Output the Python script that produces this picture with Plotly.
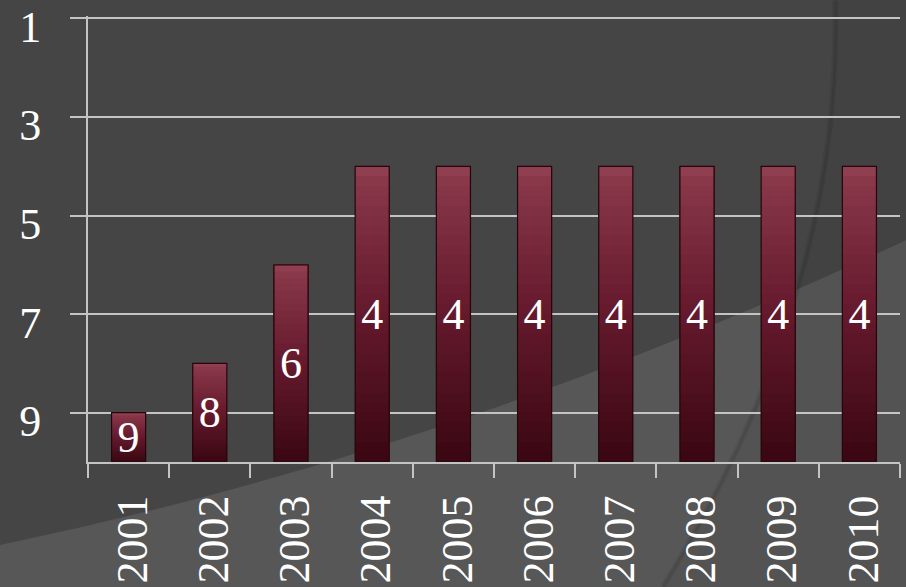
import plotly.graph_objects as go

# ---- data ----
years = ["2001", "2002", "2003", "2004", "2005", "2006", "2007", "2008", "2009", "2010"]
ranks = [9, 8, 6, 4, 4, 4, 4, 4, 4, 4]
y_ticks = [1, 3, 5, 7, 9]
axis_bottom = 10
axis_top = 0.95

# ---- style ----
FONT = "Liberation Serif"
FS = 44
GRID = "#c4c4c4"
N_SLICES = 30
stops = [(0.0, (0x3a, 0x07, 0x12)), (0.5, (0x66, 0x1a, 0x2d)), (0.93, (0x88, 0x37, 0x49)), (1.0, (0x96, 0x46, 0x57))]


def grad(f):
    for (f0, c0), (f1, c1) in zip(stops[:-1], stops[1:]):
        if f <= f1:
            t = (f - f0) / (f1 - f0) if f1 > f0 else 0
            return "rgb(%d,%d,%d)" % tuple(round(a + (b - a) * t) for a, b in zip(c0, c1))
    return "rgb(%d,%d,%d)" % stops[-1][1]


fig = go.Figure()
lengths = [axis_bottom - r for r in ranks]
for k in range(N_SLICES):
    f = k / N_SLICES
    fig.add_trace(go.Bar(
        x=years,
        base=[axis_bottom - L * f for L in lengths],
        y=[-(L * (1 - f)) for L in lengths],
        marker=dict(color=grad(f), line=dict(width=0)),
        hoverinfo="skip", showlegend=False,
    ))

fig.add_trace(go.Bar(
    x=years,
    base=[axis_bottom] * len(years),
    y=[-L for L in lengths],
    text=[str(r) for r in ranks],
    textposition="inside",
    insidetextanchor="middle",
    textangle=0,
    constraintext="none",
    textfont=dict(family=FONT, size=FS, color="white"),
    marker=dict(color="rgba(0,0,0,0)", line=dict(color="#25060c", width=1.2)),
    showlegend=False,
))

# ---- layout geometry (pixels) ----
PLOT_LEFT, PLOT_RIGHT = 88, 900
Y1_PX, Y10_PX = 18, 462          # pixel rows of value 1 and value 10
ppu = (Y10_PX - Y1_PX) / (axis_bottom - 1)
T_M = Y1_PX - (1 - axis_top) * ppu
H_P = Y10_PX - T_M
L_M, W_P = PLOT_LEFT, PLOT_RIGHT - PLOT_LEFT


def px(x, y):
    return "%.4f,%.4f" % ((x - L_M) / W_P, (T_M + H_P - y) / H_P)


light_path = ("M " + px(0, 545) + " Q " + px(453, 451.5) + " " + px(906, 240) +
              " L " + px(906, 587) + " L " + px(0, 587) + " Z")
arc_path = "M " + px(835, 0) + " Q " + px(843, 293.5) + " " + px(663, 587)
right_path = ("M " + px(835, 0) + " Q " + px(843, 293.5) + " " + px(663, 587) +
              " L " + px(906, 587) + " L " + px(906, 0) + " Z")

shapes = [
    dict(type="path", path=light_path, xref="paper", yref="paper", layer="below",
         fillcolor="#575757", line=dict(width=0)),
    dict(type="path", path=right_path, xref="paper", yref="paper", layer="below",
         fillcolor="rgba(0,0,0,0.04)", line=dict(width=0)),
    dict(type="path", path=arc_path, xref="paper", yref="paper", layer="below",
         line=dict(color="rgba(0,0,0,0.07)", width=6)),
    dict(type="path", path=arc_path, xref="paper", yref="paper", layer="below",
         line=dict(color="rgba(0,0,0,0.07)", width=2)),
]

fig.update_layout(
    width=906, height=587,
    margin=dict(l=L_M, r=906 - PLOT_RIGHT, t=T_M, b=587 - Y10_PX, pad=0, autoexpand=False),
    paper_bgcolor="#454545",
    plot_bgcolor="rgba(0,0,0,0)",
    barmode="overlay",
    bargap=0.58,
    shapes=shapes,
    font=dict(family=FONT, color="white"),
    xaxis=dict(
        type="category",
        automargin=False,
        tickson="boundaries",
        ticks="outside", ticklen=14, tickwidth=2, tickcolor=GRID,
        showline=True, linecolor=GRID, linewidth=2,
        showgrid=False,
        tickangle=-90,
        tickfont=dict(family=FONT, size=FS, color="white"),
        ticklabelstandoff=14,
        ticklabelshift=4,
        ticklabeloverflow="allow",
    ),
    yaxis=dict(
        range=[axis_bottom, axis_top],
        automargin=False,
        tickvals=y_ticks,
        ticktext=[str(v) for v in y_ticks],
        ticks="outside", ticklen=16, tickwidth=2, tickcolor=GRID,
        showline=True, linecolor=GRID, linewidth=2,
        showgrid=True, gridcolor=GRID, gridwidth=2,
        zeroline=False,
        tickfont=dict(family=FONT, size=FS, color="white"),
        ticklabelstandoff=20,
        ticklabelshift=-8,
        ticklabeloverflow="allow",
    ),
)

fig.write_html(
    "out.html",
    config={"displayModeBar": False},
    post_script="document.body.style.margin='0';document.body.style.background='#454545';",
)
